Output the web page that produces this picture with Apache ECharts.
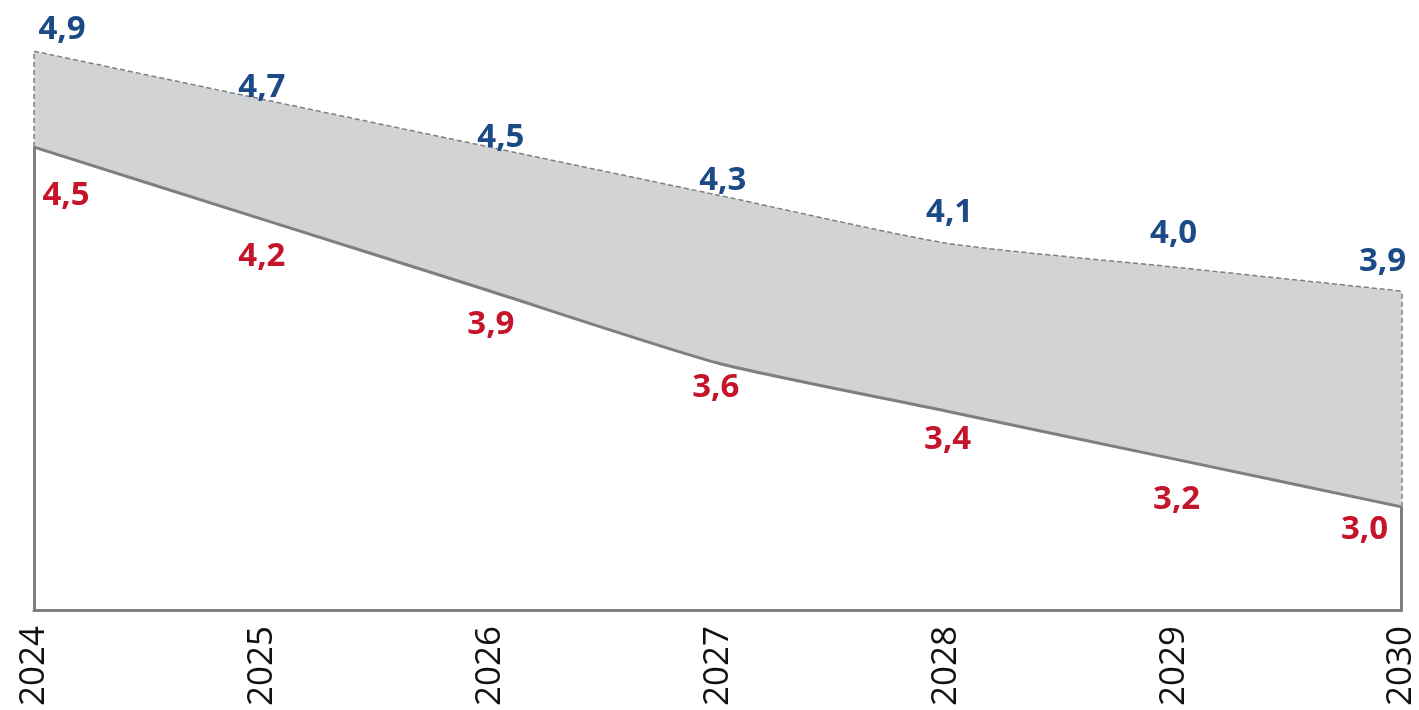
<!DOCTYPE html>
<html>
<head>
<meta charset="utf-8">
<script src="https://cdn.jsdelivr.net/npm/echarts@6/dist/echarts.min.js"></script>
<style>
  html, body { margin: 0; padding: 0; background: #ffffff; }
  #chart { width: 1419px; height: 710px; }
</style>
</head>
<body>
<div id="chart"></div>
<script>
// Years on the horizontal axis
const years = ['2024', '2025', '2026', '2027', '2028', '2029', '2030'];
// Upper bound of the range (dashed edge)
const upperValues = [4.9, 4.7, 4.5, 4.3, 4.1, 4.0, 3.9];
// Lower bound of the range (solid edge)
const lowerValues = [4.5, 4.2, 3.9, 3.6, 3.4, 3.2, 3.0];

// Value axis extent
const Y_MIN = 2.57;
const Y_MAX = 5.03;

// Label nudges [dx, dy] relative to each point
const upperLabelShift = [[28, -22], [0, -12], [11, -10], [5, -14], [4, -30], [0, -33], [-19, -29]];
const lowerLabelShift = [[32, 48], [0, 38], [1, 34], [-2, 25], [2, 29], [3, 41], [-37, 23]];

const GRAY_LINE = '#7f7f7f';
const FILL = '#d2d3d5';
const BLUE = '#1b4a86';
const RED = '#c4152b';
const fmt = v => v.toFixed(1).replace('.', ',');

function labelled(values, shifts) {
  return values.map((v, i) => ({
    value: v,
    label: { offset: shifts[i] }
  }));
}

const valueLabel = color => ({
  show: true,
  position: 'inside',
  align: 'center',
  verticalAlign: 'middle',
  color: color,
  fontFamily: 'Open Sans',
  fontWeight: 'bold',
  fontSize: 33,
  formatter: p => fmt(p.value)
});

const last = years.length - 1;

const chart = echarts.init(document.getElementById('chart'), null, { renderer: 'canvas' });
chart.setOption({
  backgroundColor: '#ffffff',
  animation: false,
  grid: { left: 34, right: 12, top: 20, bottom: 100, containLabel: false },
  xAxis: {
    type: 'category',
    data: years,
    boundaryGap: false,
    z: 10,
    axisLine: { show: true, lineStyle: { color: GRAY_LINE, width: 3 } },
    axisTick: { show: false },
    axisLabel: {
      rotate: 90,
      margin: 16,
      color: '#111111',
      fontFamily: 'Open Sans',
      fontSize: 35
    },
    splitLine: { show: false }
  },
  yAxis: {
    type: 'value',
    min: Y_MIN,
    max: Y_MAX,
    show: false,
    splitLine: { show: false }
  },
  series: [
    {
      name: 'upper',
      type: 'line',
      z: 2,
      smooth: 0.2,
      data: labelled(upperValues, upperLabelShift),
      symbol: 'circle',
      symbolSize: 1,
      itemStyle: { color: 'rgba(0,0,0,0)' },
      lineStyle: { color: GRAY_LINE, width: 1.5, type: [5, 3] },
      areaStyle: { color: FILL, opacity: 1, origin: 'start' },
      label: valueLabel(BLUE),
      markLine: {
        silent: true,
        symbol: 'none',
        label: { show: false },
        lineStyle: { color: GRAY_LINE, width: 1.5, type: [5, 3] },
        data: [
          [{ coord: [0, lowerValues[0]] }, { coord: [0, upperValues[0]] }],
          [{ coord: [last, lowerValues[last]] }, { coord: [last, upperValues[last]] }]
        ]
      }
    },
    {
      name: 'lower',
      type: 'line',
      z: 3,
      smooth: 0.2,
      data: labelled(lowerValues, lowerLabelShift),
      symbol: 'circle',
      symbolSize: 1,
      itemStyle: { color: 'rgba(0,0,0,0)' },
      lineStyle: { color: GRAY_LINE, width: 3 },
      areaStyle: { color: '#ffffff', opacity: 1, origin: 'start' },
      label: valueLabel(RED),
      markLine: {
        silent: true,
        symbol: 'none',
        label: { show: false },
        lineStyle: { color: GRAY_LINE, width: 3, type: 'solid' },
        data: [
          [{ coord: [0, Y_MIN] }, { coord: [0, lowerValues[0]] }],
          [{ coord: [last, Y_MIN] }, { coord: [last, lowerValues[last]] }]
        ]
      }
    }
  ]
});
</script>
</body>
</html>
